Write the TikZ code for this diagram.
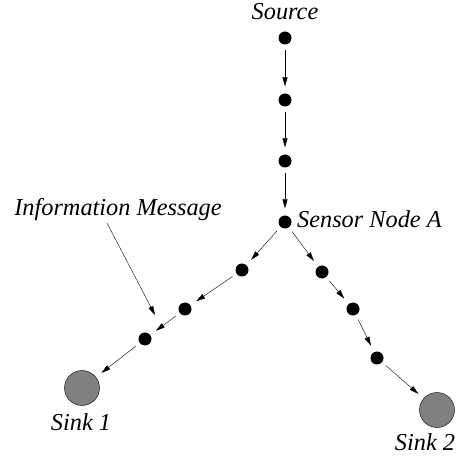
\documentclass[tikz,border=0pt]{standalone}
\usepackage{fontspec}
\setmainfont{Liberation Serif}
\usetikzlibrary{arrows.meta}
\begin{document}
\begin{tikzpicture}[x=1pt,y=-1pt,
  sensor/.style={circle,fill=black,inner sep=0pt,minimum size=13pt},
  sink/.style={circle,draw=black,fill=gray,inner sep=0pt,minimum size=35pt},
  hop/.style={-{Triangle[length=9pt,width=5pt]},shorten <=5pt,shorten >=7pt},
  lbl/.style={font=\fontsize{24.3}{28}\selectfont\itshape,inner sep=0pt}]
\useasboundingbox (0,0) rectangle (461,457);

%draw sensor nodes
\node[sensor] (src) at (285,38) {};
\node[sensor] (v1) at (285,100) {};
\node[sensor] (v2) at (285,161) {};
\node[sensor] (nodeA) at (285,222) {};
\node[sensor] (l1) at (242,270) {};
\node[sensor] (l2) at (185,309) {};
\node[sensor] (l3) at (145,339) {};
\node[sensor] (r1) at (322,272) {};
\node[sensor] (r2) at (353,309) {};
\node[sensor] (r3) at (377,358) {};

%draw sinks
\node[sink] (sink1) at (82,388) {};
\node[sink] (sink2) at (437,410) {};

%draw labels
\node[lbl,anchor=base] (srclbl) at (285,20) {Source};
\node[lbl,anchor=base west] (albl) at (297,228) {Sensor Node A};
\node[lbl,anchor=base] (infolbl) at (118,216) {Information Message};
\node[lbl,anchor=base] (sink1lbl) at (81,430) {Sink 1};
\node[lbl,anchor=base] (sink2lbl) at (425,450) {Sink 2};

%draw hops
\foreach \a/\b in {src/v1,v1/v2,v2/nodeA,nodeA/l1,l1/l2,l2/l3,l3/sink1,nodeA/r1,r1/r2,r2/r3,r3/sink2}
\draw[hop] (\a) -- (\b);

%draw pointer to message
\coordinate (msgtail) at (107,223);
\coordinate (msghead) at (155,315);
\draw[-{Triangle[length=9pt,width=5pt]}] (msgtail) -- (msghead);
\end{tikzpicture}
\end{document}
